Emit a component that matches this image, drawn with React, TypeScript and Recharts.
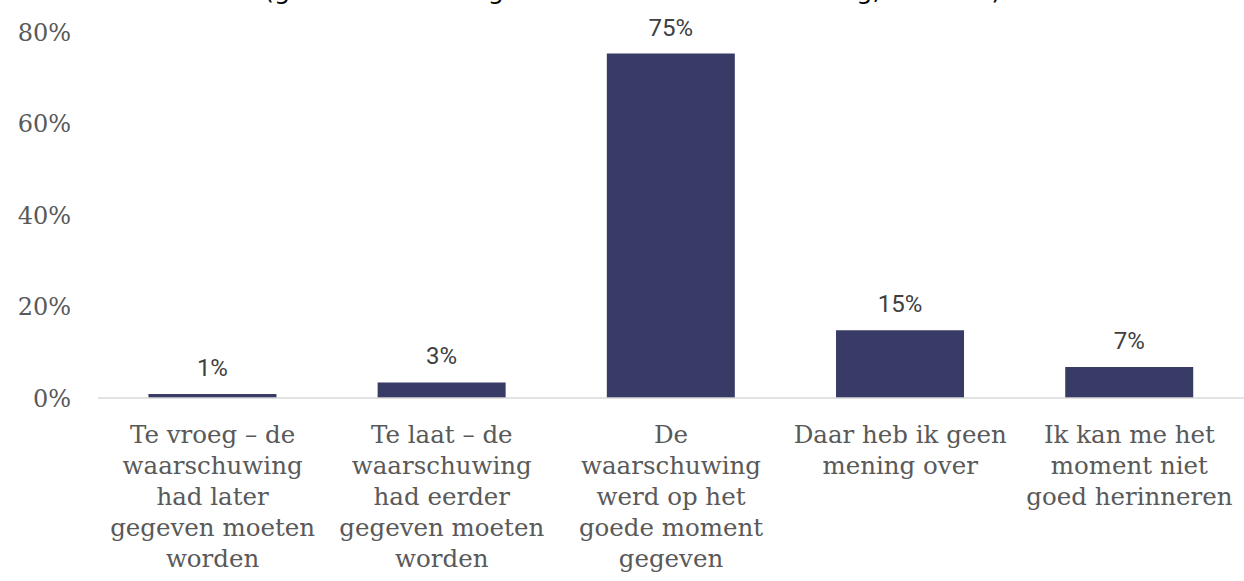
import { BarChart, Bar, XAxis, YAxis, LabelList } from "recharts";

// Answer categories, one entry per bar, pre-wrapped into lines
const categories = [
  ["Te vroeg – de", "waarschuwing", "had later", "gegeven moeten", "worden"],
  ["Te laat – de", "waarschuwing", "had eerder", "gegeven moeten", "worden"],
  ["De", "waarschuwing", "werd op het", "goede moment", "gegeven"],
  ["Daar heb ik geen", "mening over"],
  ["Ik kan me het", "moment niet", "goed herinneren"],
];

// Share of respondents (%)
const shares = [0.9, 3.4, 75.3, 14.8, 6.8];

// Y axis ticks
const yTicks = [0, 20, 40, 60, 80];

// Title runs off the top of the picture, only descenders show
const title = "(geselecteerd: degenen met een waarschuwing, n=1234)";

const data = categories.map((lines, i) => ({
  name: lines.join("\n"),
  value: shares[i],
}));

const SERIF = "'DejaVu Serif', serif";

// Multi-line category label
const CategoryTick = (props: any) => {
  const { x, y, payload } = props;
  const lines: string[] = String(payload.value).split("\n");
  return (
    <text
      x={x}
      y={y}
      textAnchor="middle"
      fill="#595959"
      fontFamily={SERIF}
      fontSize={24.5}
    >
      {lines.map((line, i) => (
        <tspan key={i} x={x} dy={i === 0 ? 45 : 31}>
          {line}
        </tspan>
      ))}
    </text>
  );
};

export default function App() {
  return (
    <div
      style={{
        position: "absolute",
        top: 0,
        left: 0,
        width: 1244,
        height: 581,
        background: "#fff",
        overflow: "hidden",
      }}
    >
      {/* title, mostly above the visible area */}
      <div
        style={{
          position: "absolute",
          left: 264,
          top: -22.5,
          fontFamily: "'DejaVu Sans', sans-serif",
          fontSize: 25.5,
          lineHeight: 1,
          color: "#000",
          whiteSpace: "nowrap",
        }}
      >
        {title}
      </div>

      <BarChart
        width={1244}
        height={581}
        data={data}
        margin={{ top: 32, right: 0, left: 0, bottom: 0 }}
        barCategoryGap="22%"
      >
        <YAxis
          width={98}
          domain={[0, 80]}
          ticks={yTicks}
          tickFormatter={(v) => `${v}%`}
          axisLine={false}
          tickLine={false}
          tickSize={0}
          tickMargin={27}
          tick={{ fill: "#595959", fontFamily: SERIF, fontSize: 24 }}
        />
        <XAxis
          dataKey="name"
          height={183}
          interval={0}
          axisLine={{ stroke: "#d9d9d9", strokeWidth: 1.5 }}
          tickLine={false}
          tickSize={0}
          tickMargin={0}
          tick={<CategoryTick />}
        />
        <Bar dataKey="value" fill="#383b66" isAnimationActive={false}>
          <LabelList
            dataKey="value"
            position="top"
            offset={18}
            formatter={(v: any) => `${Math.round(Number(v))}%`}
            fill="#404040"
            fontFamily="Roboto, sans-serif"
            fontSize={24}
          />
        </Bar>
      </BarChart>
    </div>
  );
}
